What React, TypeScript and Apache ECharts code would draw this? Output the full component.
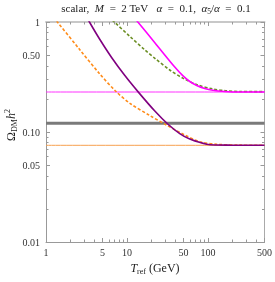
import React, { useEffect, useRef } from 'react';
import * as echarts from 'echarts';

// ---- data (T in GeV, Omega h^2) ----
const xTicks = [1, 5, 10, 50, 100, 500];
const xTickLabels = ['1', '5', '10', '50', '100', '500'];
const xMinorTicks = [2, 3, 4, 6, 7, 8, 9, 20, 30, 40, 60, 70, 80, 90, 200, 300, 400];
const yTicks = [0.01, 0.05, 0.1, 0.5, 1];
const yTickLabels = ['0.01', '0.05', '0.10', '0.50', '1'];
const yMinorTicks = [0.02, 0.03, 0.04, 0.06, 0.07, 0.08, 0.09, 0.2, 0.3, 0.4, 0.6, 0.7, 0.8, 0.9];

const orangeT = [1.12, 1.38, 2.63, 4.63, 7.3, 10.9, 19.2, 29.3, 51.7, 79, 128, 247, 500];
const orangeOmega = [1.195, 1.0, 0.557, 0.336, 0.234, 0.182, 0.141, 0.118, 0.094, 0.0816, 0.0773, 0.076, 0.0757];

const purpleT = [3.03, 3.44, 4.63, 6.46, 9.42, 14.0, 22.1, 31.9, 44.9, 59.7, 96.7, 186, 500];
const purpleOmega = [1.19, 1.0, 0.693, 0.476, 0.326, 0.228, 0.155, 0.1182, 0.0967, 0.0862, 0.0775, 0.0759, 0.0757];

const greenT = [5.34, 6.97, 10.86, 16.6, 22.1, 33.8, 48.9, 74.8, 114.6, 165.8, 246.6, 500];
const greenOmega = [1.197, 1.0, 0.74, 0.558, 0.468, 0.366, 0.309, 0.268, 0.2465, 0.2374, 0.2335, 0.233];

const magentaT = [10.86, 13.63, 22.1, 38.96, 48.9, 59.7, 72.8, 91.3, 114.6, 161.2, 246.6, 500];
const magentaOmega = [1.228, 1.0, 0.648, 0.389, 0.325, 0.2877, 0.2647, 0.2485, 0.2393, 0.2335, 0.231, 0.231];

const lineRangeT = [1, 500];
const magentaLevel = 0.231;
const planckLevel = 0.12;
const orangeLevel = 0.0757;

const SERIF = '"Liberation Serif", "DejaVu Serif", serif';

const lg = (v: number) => Math.log10(v);
const pts = (t: number[], o: number[]) => t.map((v, i) => [lg(v), lg(o[i])]);
const hline = (level: number) => lineRangeT.map((t) => [lg(t), lg(level)]);

function labelFor(ticks: number[], labels: string[], v: number) {
  for (let i = 0; i < ticks.length; i++) {
    if (Math.abs(lg(ticks[i]) - v) < 1e-6) return labels[i];
  }
  return '';
}

export default function App() {
  const ref = useRef<HTMLDivElement>(null);
  useEffect(() => {
    if (!ref.current) return;
    const chart = echarts.init(ref.current, undefined, { renderer: 'svg' });
    const XMAX = lg(500);
    const tickColor = '#999';
    const mkX = (pos: string, vals: number[], len: number, withLabels: boolean, line: any) => ({
      type: 'value',
      min: 0,
      max: XMAX,
      position: pos,
      axisLine: line ? { show: true, onZero: false, lineStyle: line } : { show: false, onZero: false },
      axisTick: { show: true, inside: true, length: len, customValues: vals.map(lg), lineStyle: { color: tickColor, width: 1 } },
      axisLabel: withLabels
        ? {
            show: true,
            customValues: vals.map(lg),
            formatter: (v: number) => labelFor(xTicks, xTickLabels, v),
            fontFamily: SERIF,
            fontSize: 10,
            color: '#333',
            margin: 5,
          }
        : { show: false },
      splitLine: { show: false },
    });
    const mkY = (pos: string, vals: number[], len: number, withLabels: boolean, line: any) => ({
      type: 'value',
      min: -2,
      max: 0,
      position: pos,
      axisLine: line ? { show: true, onZero: false, lineStyle: line } : { show: false, onZero: false },
      axisTick: { show: true, inside: true, length: len, customValues: vals.map(lg), lineStyle: { color: tickColor, width: 1 } },
      axisLabel: withLabels
        ? {
            show: true,
            customValues: vals.map(lg),
            formatter: (v: number) => labelFor(yTicks, yTickLabels, v),
            fontFamily: SERIF,
            fontSize: 10,
            color: '#333',
            margin: 6,
          }
        : { show: false },
      splitLine: { show: false },
    });

    const curve = (data: number[][], color: string, width: number, dashed: boolean, z: number) => ({
      type: 'line',
      data,
      xAxisIndex: 0,
      yAxisIndex: 0,
      showSymbol: false,
      symbol: 'none',
      smooth: 0.3,
      clip: true,
      z,
      lineStyle: { color, width, type: dashed ? [3, 2] : 'solid' },
    });

    chart.setOption({
      animation: false,
      grid: { left: 46, top: 22, width: 219, height: 220 },
      xAxis: [
        mkX('bottom', xTicks, 4, true, { color: '#999', width: 1 }),
        mkX('bottom', xMinorTicks, 2.5, false, null),
        mkX('top', xTicks, 4, false, { color: '#c8c8c8', width: 2 }),
        mkX('top', xMinorTicks, 2.5, false, null),
      ],
      yAxis: [
        mkY('left', yTicks, 4, true, { color: '#999', width: 1 }),
        mkY('left', yMinorTicks, 2.5, false, null),
        mkY('right', yTicks, 4, false, { color: '#aaa', width: 1 }),
        mkY('right', yMinorTicks, 2.5, false, null),
      ],
      series: [
        curve(hline(magentaLevel), '#FF33FF', 1, false, 1),
        curve(hline(planckLevel), '#7a7a7a', 3, false, 1),
        curve(hline(orangeLevel), '#F7A04F', 1, false, 1),
        curve(pts(orangeT, orangeOmega), '#FF8C1A', 1.6, true, 3),
        curve(pts(purpleT, purpleOmega), '#800080', 1.6, false, 4),
        curve(pts(greenT, greenOmega), '#6B8E23', 1.6, true, 3),
        curve(pts(magentaT, magentaOmega), '#FF00FF', 1.6, false, 4),
      ],
      graphic: [
        {
          type: 'text',
          x: 156,
          y: 8,
          style: {
            text: 'scalar,  {i|M}  =  2 TeV   {i|α}  =  0.1,  {i|α}{s|5}/{i|α}  =  0.1',
            fill: '#222',
            font: '11px ' + SERIF,
            align: 'center',
            verticalAlign: 'middle',
            rich: {
              i: { fontStyle: 'italic', fontFamily: SERIF, fontSize: 11, lineHeight: 14, fill: '#222' },
              s: { fontFamily: SERIF, fontSize: 7.5, lineHeight: 7.5, verticalAlign: 'bottom', fill: '#222' },
            },
          },
        },
        {
          type: 'text',
          x: 11,
          y: 125,
          rotation: Math.PI / 2,
          style: {
            text: 'Ω{sub|DM}{i|h}{sup|2}',
            fill: '#222',
            font: '12px ' + SERIF,
            align: 'center',
            verticalAlign: 'middle',
            rich: {
              i: { fontStyle: 'italic', fontFamily: SERIF, fontSize: 12, lineHeight: 15, fill: '#222' },
              sub: { fontFamily: SERIF, fontSize: 8, lineHeight: 8, verticalAlign: 'bottom', fill: '#222' },
              sup: { fontFamily: SERIF, fontSize: 8, lineHeight: 8, verticalAlign: 'top', fill: '#222' },
            },
          },
        },
        {
          type: 'text',
          x: 155,
          y: 268,
          style: {
            text: '{i|T}{sub|ref} (GeV)',
            fill: '#222',
            font: '12px ' + SERIF,
            align: 'center',
            verticalAlign: 'middle',
            rich: {
              i: { fontStyle: 'italic', fontFamily: SERIF, fontSize: 12, lineHeight: 15, fill: '#222' },
              sub: { fontFamily: SERIF, fontSize: 8, lineHeight: 8, verticalAlign: 'bottom', fill: '#222' },
            },
          },
        },
      ],
    });
    return () => chart.dispose();
  }, []);
  return <div ref={ref} style={{ position: 'fixed', left: 0, top: 0, width: 275, height: 282 }} />;
}
